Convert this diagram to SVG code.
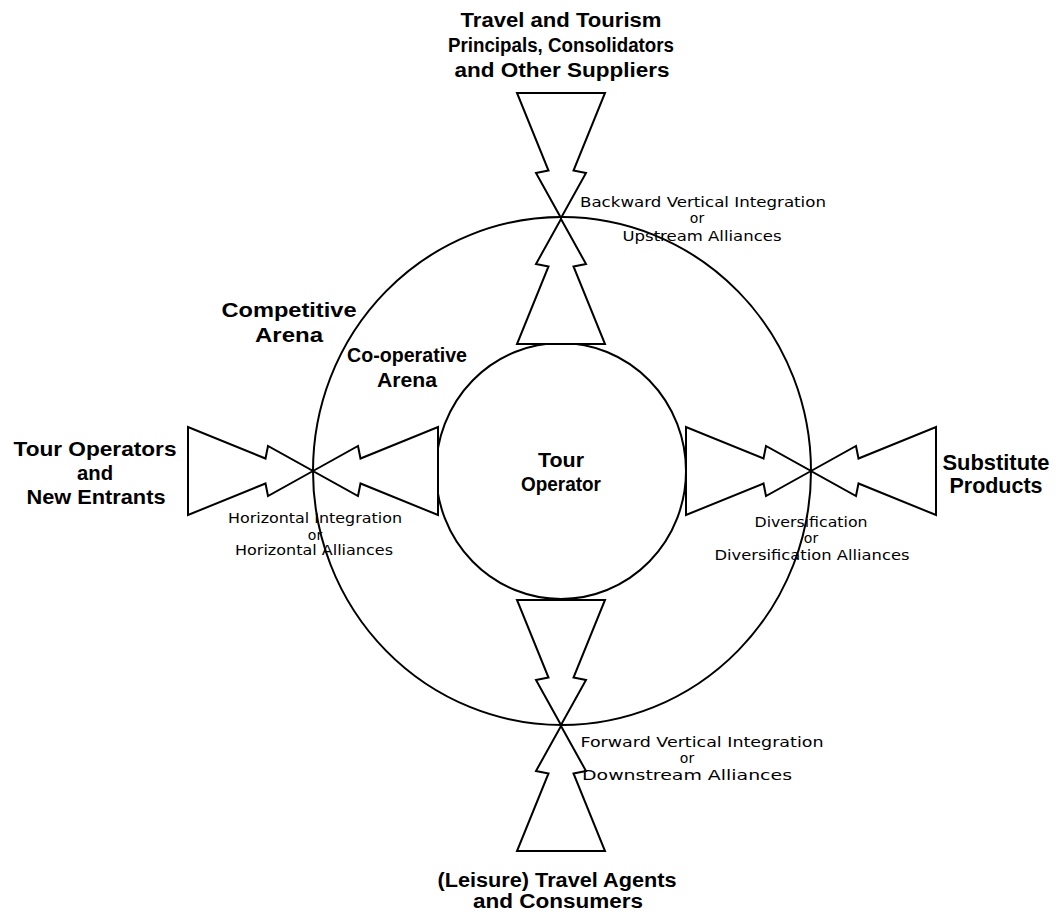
<svg xmlns="http://www.w3.org/2000/svg" width="1056" height="915" viewBox="0 0 1056 915">
  <style>
    .title { font-family: "Liberation Sans", Arial, sans-serif; font-weight: bold; fill: #000; text-anchor: middle; }
    .label { font-family: "DejaVu Sans", "Liberation Sans", sans-serif; font-size: 14px; fill: #000; text-anchor: middle; }
    .ring { fill: none; stroke: #000; stroke-width: 2; }
    .arrow { fill: #fff; stroke: #000; stroke-width: 2; stroke-linejoin: miter; }
  </style>
  <defs>
    <!-- notched arrow, tip at origin, pointing toward +y -->
    <path id="arrow" d="M0,0 L-25,-45 L-12.5,-47.5 L-44,-125 L44,-125 L12.5,-47.5 L25,-45 Z"/>
  </defs>

  <rect width="1056" height="915" fill="#fff"/>

  <!-- arenas -->
  <g id="competitive-arena">
    <ellipse class="ring" cx="562" cy="471" rx="249" ry="254"/>
    <text class="title" font-size="20" x="289" y="317" textLength="135" lengthAdjust="spacingAndGlyphs">Competitive</text>
    <text class="title" font-size="20" x="289" y="342" textLength="68" lengthAdjust="spacingAndGlyphs">Arena</text>
  </g>
  <g id="cooperative-arena">
    <text class="title" font-size="20" x="407" y="362" textLength="120" lengthAdjust="spacingAndGlyphs">Co-operative</text>
    <text class="title" font-size="20" x="407" y="387" textLength="60" lengthAdjust="spacingAndGlyphs">Arena</text>
  </g>
  <g id="tour-operator">
    <ellipse class="ring" cx="561" cy="471" rx="125" ry="128"/>
    <text class="title" font-size="20" x="561" y="467" textLength="46" lengthAdjust="spacingAndGlyphs">Tour</text>
    <text class="title" font-size="20" x="561" y="491" textLength="80" lengthAdjust="spacingAndGlyphs">Operator</text>
  </g>

  <!-- connectors -->
  <g id="connectors">
    <use href="#arrow" class="arrow" transform="translate(561,218)"/>
    <use href="#arrow" class="arrow" transform="translate(561,219) rotate(180)"/>
    <use href="#arrow" class="arrow" transform="translate(561,725)"/>
    <use href="#arrow" class="arrow" transform="translate(561,726) rotate(180)"/>
    <use href="#arrow" class="arrow" transform="translate(313,471) rotate(-90)"/>
    <use href="#arrow" class="arrow" transform="translate(313,471) rotate(90)"/>
    <use href="#arrow" class="arrow" transform="translate(811,471) rotate(-90)"/>
    <use href="#arrow" class="arrow" transform="translate(811,471) rotate(90)"/>
  </g>

  <!-- outside parties -->
  <g id="suppliers">
    <text class="title" font-size="20" x="561" y="27" textLength="201" lengthAdjust="spacingAndGlyphs">Travel and Tourism</text>
    <text class="title" font-size="20" x="561" y="52" textLength="226" lengthAdjust="spacingAndGlyphs">Principals, Consolidators</text>
    <text class="title" font-size="20" x="562" y="77" textLength="215" lengthAdjust="spacingAndGlyphs">and Other Suppliers</text>
  </g>
  <g id="competitors">
    <text class="title" font-size="21" x="95" y="456" textLength="163" lengthAdjust="spacingAndGlyphs">Tour Operators</text>
    <text class="title" font-size="21" x="95" y="480" textLength="36" lengthAdjust="spacingAndGlyphs">and</text>
    <text class="title" font-size="21" x="96" y="504" textLength="139" lengthAdjust="spacingAndGlyphs">New Entrants</text>
  </g>
  <g id="substitutes">
    <text class="title" font-size="22" x="996" y="470" textLength="107" lengthAdjust="spacingAndGlyphs">Substitute</text>
    <text class="title" font-size="22" x="996" y="493" textLength="93" lengthAdjust="spacingAndGlyphs">Products</text>
  </g>
  <g id="buyers">
    <text class="title" font-size="20" x="557" y="887" textLength="239" lengthAdjust="spacingAndGlyphs">(Leisure) Travel Agents</text>
    <text class="title" font-size="20" x="558" y="908" textLength="170" lengthAdjust="spacingAndGlyphs">and Consumers</text>
  </g>

  <!-- strategy labels -->
  <g id="backward-label">
    <text class="label" x="703" y="207" textLength="246" lengthAdjust="spacingAndGlyphs">Backward Vertical Integration</text>
    <text class="label" x="697" y="223">or</text>
    <text class="label" x="702" y="241" textLength="159" lengthAdjust="spacingAndGlyphs">Upstream Alliances</text>
  </g>
  <g id="horizontal-label">
    <text class="label" x="315" y="523" textLength="174" lengthAdjust="spacingAndGlyphs">Horizontal Integration</text>
    <text class="label" x="315" y="540">or</text>
    <text class="label" x="314" y="555" textLength="158" lengthAdjust="spacingAndGlyphs">Horizontal Alliances</text>
  </g>
  <g id="diversification-label">
    <text class="label" x="811" y="527" textLength="113" lengthAdjust="spacingAndGlyphs">Diversification</text>
    <text class="label" x="811" y="543">or</text>
    <text class="label" x="812" y="560" textLength="195" lengthAdjust="spacingAndGlyphs">Diversification Alliances</text>
  </g>
  <g id="forward-label">
    <text class="label" x="702" y="747" textLength="243" lengthAdjust="spacingAndGlyphs">Forward Vertical Integration</text>
    <text class="label" x="687" y="763">or</text>
    <text class="label" x="687" y="780" textLength="210" lengthAdjust="spacingAndGlyphs">Downstream Alliances</text>
  </g>
</svg>
